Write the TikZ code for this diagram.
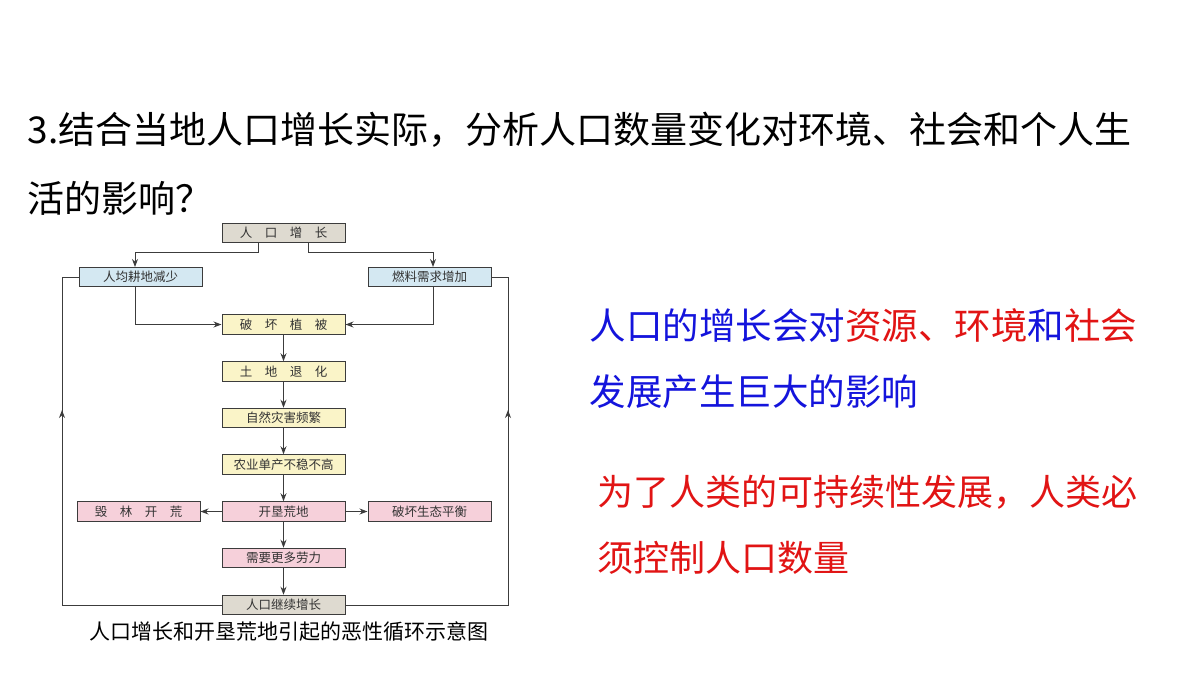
\documentclass[tikz,border=0pt]{standalone}
\usepackage{fontspec}
\setmainfont{Noto Sans CJK SC}
\usetikzlibrary{arrows.meta}
\definecolor{gbox}{RGB}{222,218,208}
\definecolor{bbox}{RGB}{212,232,242}
\definecolor{ybox}{RGB}{250,244,200}
\definecolor{pbox}{RGB}{246,208,218}
\definecolor{lnc}{RGB}{60,60,60}
\definecolor{tblue}{RGB}{20,20,220}
\definecolor{tred}{RGB}{225,20,20}
\tikzset{
  fbox/.style={draw=lnc,line width=1pt,minimum width=123pt,minimum height=19.5pt,inner sep=0pt,font=\fontsize{12.5}{14}\selectfont,text=black!80},
  ar/.style={-{Stealth[length=8pt,width=6pt]},draw=lnc,line width=1pt},
  ln/.style={draw=lnc,line width=1pt}
}
\begin{document}
\begin{tikzpicture}[x=1pt,y=-1pt]
\useasboundingbox (0,0) rectangle (1200,675);
\node[anchor=west,font=\fontsize{37}{44}\selectfont] (t1) at (24,130) {3.结合当地人口增长实际，分析人口数量变化对环境、社会和个人生};
\node[anchor=west,font=\fontsize{37}{44}\selectfont] (t2) at (24,198) {活的影响？};
\node[fbox,fill=gbox] (a) at (283.5,233) {人\quad 口\quad 增\quad 长};
\node[fbox,fill=bbox] (bl) at (140.5,277) {人均耕地减少};
\node[fbox,fill=bbox] (br) at (429.5,277) {燃料需求增加};
\node[fbox,fill=ybox] (c1) at (283.5,324.5) {破\quad 坏\quad 植\quad 被};
\node[fbox,fill=ybox] (c2) at (283.5,371.5) {土\quad 地\quad 退\quad 化};
\node[fbox,fill=ybox] (c3) at (283.5,418) {自然灾害频繁};
\node[fbox,fill=ybox] (c4) at (283.5,464.5) {农业单产不稳不高};
\node[fbox,fill=pbox] (c5) at (283.5,511.5) {开垦荒地};
\node[fbox,fill=pbox] (pl) at (138.5,511.5) {毁\quad 林\quad 开\quad 荒};
\node[fbox,fill=pbox] (pr) at (429.5,511.5) {破坏生态平衡};
\node[fbox,fill=pbox] (c6) at (283.5,558) {需要更多劳力};
\node[fbox,fill=gbox] (c7) at (283.5,605) {人口继续增长};
\node[font=\fontsize{21}{24}\selectfont] (cap) at (289,632) {人口增长和开垦荒地引起的恶性循环示意图};
\coordinate (ls) at (258,243);
\coordinate (rs) at (308,243);
\draw[ar] (ls) |- (135,252) -- (135,267);
\draw[ar] (rs) |- (433,252) -- (433,267);
\draw[ar] (135,287) |- (c1.west);
\draw[ar] (433,287) |- (c1.east);
\draw[ar] (c1) -- (c2);
\draw[ar] (c2) -- (c3);
\draw[ar] (c3) -- (c4);
\draw[ar] (c4) -- (c5);
\draw[ar] (c5) -- (c6);
\draw[ar] (c6) -- (c7);
\draw[ar] (c5) -- (pl);
\draw[ar] (c5) -- (pr);
\draw[ln] (c7.west) -| (62,277) -- (bl.west);
\draw[ln] (c7.east) -| (508,277) -- (br.east);
\draw[ar] (62,430) -- (62,410);
\draw[ar] (508,430) -- (508,410);
\node[anchor=west,font=\fontsize{36.5}{44}\selectfont] (r1) at (586,326) {\textcolor{tblue}{人口的增长会对}\textcolor{tred}{资源、环境}\textcolor{tblue}{和}\textcolor{tred}{社会}};
\node[anchor=west,font=\fontsize{36.5}{44}\selectfont,text=tblue] (r2) at (586,392) {发展产生巨大的影响};
\node[anchor=west,font=\fontsize{36}{44}\selectfont,text=tred] (r3) at (594,492) {为了人类的可持续性发展，人类必};
\node[anchor=west,font=\fontsize{36}{44}\selectfont,text=tred] (r4) at (594,558) {须控制人口数量};
\end{tikzpicture}
\end{document}
